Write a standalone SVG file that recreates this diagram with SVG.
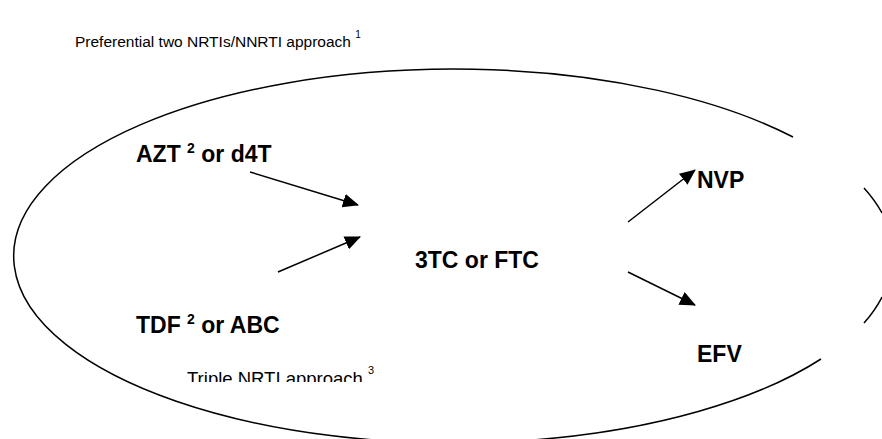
<svg xmlns="http://www.w3.org/2000/svg" width="882" height="439" viewBox="0 0 882 439">
<style>
.t{font-family:"Liberation Sans",Arial,sans-serif;fill:#000}
.b{font-weight:bold;font-size:23px}
.r{font-size:15.5px}
.s{font-size:10px}
.sb{font-size:14px;font-weight:bold}
.c{stroke:#000;stroke-width:1.5;fill:none}
</style>
<defs>
<marker id="ah" markerUnits="userSpaceOnUse" markerWidth="16" markerHeight="14" refX="15" refY="7" orient="auto">
<path d="M0,0 L16,7 L0,14 Z" fill="#000"/>
</marker>
<clipPath id="cut"><rect x="0" y="0" width="882" height="382"/></clipPath>
</defs>
<rect width="882" height="439" fill="#fff"/>
<g id="ellipse">
<path class="c" d="M821,359 A440,187 0 1 1 793,137"/>
<path class="c" d="M864,188 A440,187 0 0 1 882,213"/>
<path class="c" d="M882,297 A440,187 0 0 1 864,323"/>
</g>
<g id="title"><text class="t r" x="75" y="47">Preferential two NRTIs/NNRTI approach <tspan class="s" dy="-9">1</tspan></text></g>
<g id="azt"><text class="t b" x="136" y="162">AZT <tspan class="sb" dy="-9">2</tspan><tspan dy="9"> or d4T</tspan></text></g>
<g id="tdf"><text class="t b" x="136" y="333">TDF <tspan class="sb" dy="-9">2</tspan><tspan dy="9"> or ABC</tspan></text></g>
<g id="ftc"><text class="t b" x="415" y="268">3TC or FTC</text></g>
<g id="nvp"><text class="t b" x="697" y="188">NVP</text></g>
<g id="efv"><text class="t b" x="697" y="362">EFV</text></g>
<g id="triple" clip-path="url(#cut)"><text class="t r" x="187" y="385" style="font-size:18.5px">Triple NRTI approach <tspan class="s" dy="-11" style="font-size:11px">3</tspan></text></g>
<g id="connectors">
<line class="c" x1="250" y1="172" x2="358" y2="205" marker-end="url(#ah)"/>
<line class="c" x1="278" y1="272" x2="360" y2="237" marker-end="url(#ah)"/>
<line class="c" x1="628" y1="222" x2="695" y2="170" marker-end="url(#ah)"/>
<line class="c" x1="628" y1="272" x2="695" y2="305" marker-end="url(#ah)"/>
</g>
</svg>
